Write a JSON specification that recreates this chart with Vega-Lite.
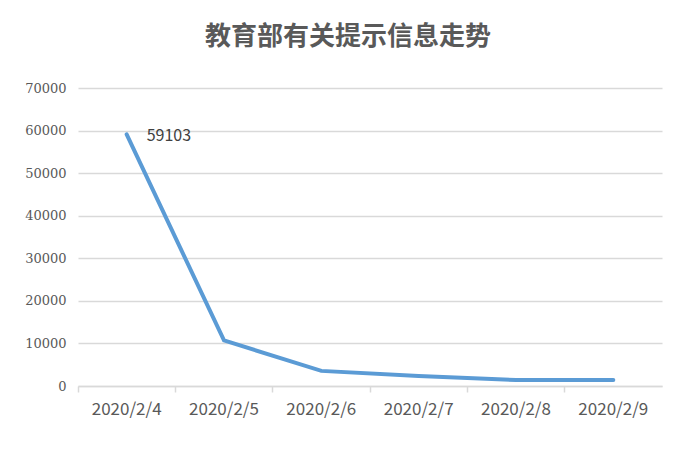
{
  "$schema": "https://vega.github.io/schema/vega-lite/v6.json",
  "width": 584,
  "height": 298,
  "autosize": {"type": "none"},
  "padding": {"left": 78, "top": 88, "right": 35, "bottom": 70},
  "background": "white",
  "title": {
    "text": "教育部有关提示信息走势",
    "fontSize": 26,
    "font": "Noto Sans CJK SC",
    "fontWeight": "bold",
    "color": "#595959",
    "anchor": "middle",
    "dx": -22,
    "offset": 32
  },
  "config": {
    "view": {"stroke": null},
    "font": "Noto Sans CJK SC"
  },
  "data": {
    "values": [
      {"date": "2020/2/4", "value": 59103, "label": "59103"},
      {"date": "2020/2/5", "value": 10700, "label": ""},
      {"date": "2020/2/6", "value": 3550, "label": ""},
      {"date": "2020/2/7", "value": 2350, "label": ""},
      {"date": "2020/2/8", "value": 1400, "label": ""},
      {"date": "2020/2/9", "value": 1400, "label": ""}
    ]
  },
  "encoding": {
    "x": {
      "field": "date",
      "type": "ordinal",
      "bandPosition": 0.5,
      "scale": {"type": "band", "paddingInner": 0, "paddingOuter": 0},
      "axis": {
        "title": null,
        "labelAngle": 0,
        "labelFontSize": 17,
        "labelColor": "#595959",
        "labelPadding": 9,
        "domainColor": "#d9d9d9",
        "domainWidth": 1.5,
        "tickColor": "#d9d9d9",
        "tickWidth": 1.5,
        "tickSize": 6,
        "bandPosition": 0,
        "grid": false
      }
    },
    "y": {
      "field": "value",
      "type": "quantitative",
      "scale": {"domain": [0, 70000], "nice": false},
      "axis": {
        "title": null,
        "values": [0, 10000, 20000, 30000, 40000, 50000, 60000, 70000],
        "format": "d",
        "labelFontSize": 13,
        "labelFont": "DejaVu Serif",
        "labelColor": "#595959",
        "labelPadding": 12,
        "domain": false,
        "ticks": false,
        "grid": true,
        "gridColor": "#d9d9d9",
        "gridWidth": 1.5
      }
    }
  },
  "layer": [
    {
      "mark": {"type": "line", "color": "#5b9bd5", "strokeWidth": 4, "strokeCap": "round"}
    },
    {
      "mark": {"type": "text", "align": "left", "baseline": "middle", "dx": 20, "dy": 2, "fontSize": 16, "color": "#404040"},
      "encoding": {"text": {"field": "label"}}
    }
  ]
}
